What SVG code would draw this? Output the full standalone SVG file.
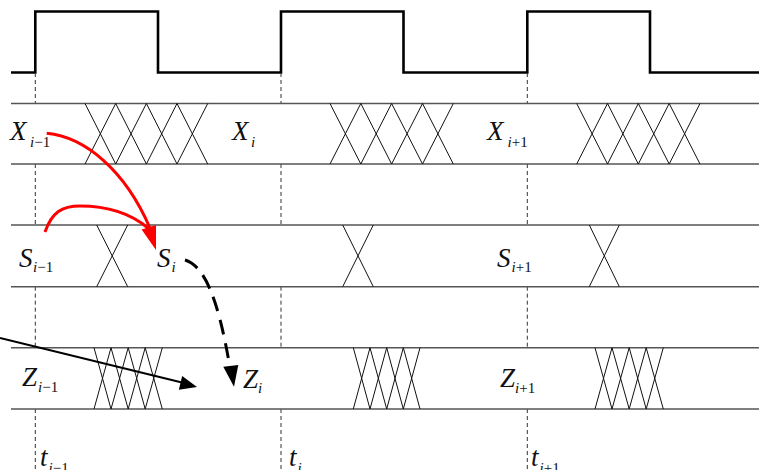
<svg xmlns="http://www.w3.org/2000/svg" width="759" height="470" viewBox="0 0 759 470">
<style>
.clk{fill:none;stroke:#000;stroke-width:2.6;stroke-linejoin:miter}
.band{stroke:#555;stroke-width:1.6;fill:none}
.cross{stroke:#111;stroke-width:1;fill:none}
.vdash{stroke:#333;stroke-width:1;stroke-dasharray:4 3;fill:none}
.red{stroke:#f00;stroke-width:3;fill:none}
.redhead{fill:#f00}
.blk{stroke:#000;stroke-width:2;fill:none}
.blkdash{stroke:#000;stroke-width:3;fill:none;stroke-dasharray:15 9}
.blkhead{fill:#000}
text{font-family:"Times New Roman","Liberation Serif","DejaVu Serif",serif;font-style:italic;font-size:27px;fill:#111}
.s{font-size:15px}
.u{font-style:normal}
</style>
<rect width="759" height="470" fill="#fff"/>
<g id="clock">
<polyline class="clk" points="11,72.5 35.3,72.5 35.3,11.5 158,11.5 158,72.5 281,72.5 281,11.5 403.5,11.5 403.5,72.5 527.3,72.5 527.3,11.5 650,11.5 650,72.5 759,72.5"/>
</g>
<g id="time-markers">
<path class="vdash" d="M35.3,73V103.5M35.3,164V225M35.3,286.7V347.7M35.3,409V470M281,73V103.5M281,164V225M281,286.7V347.7M281,409V470M527.3,73V103.5M527.3,164V225M527.3,286.7V347.7M527.3,409V470"/>
<text x="40" y="466">t<tspan class="s" x="48.5" y="473">i<tspan class="u">−1</tspan></tspan></text>
<text x="289" y="466">t<tspan class="s" x="297.5" y="473">i</tspan></text>
<text x="531" y="466">t<tspan class="s" x="539.5" y="473">i<tspan class="u">+1</tspan></tspan></text>
</g>
<g id="x-row">
<path class="band" d="M11,103.5H759M11,164H759"/>
<path class="cross" d="M85,103.5L115.7,164M85,164L115.7,103.5M115.7,103.5L146.4,164M115.7,164L146.4,103.5M146.4,103.5L177,164M146.4,164L177,103.5M177,103.5L207.7,164M177,164L207.7,103.5"/>
<path class="cross" d="M330,103.5L360.8,164M330,164L360.8,103.5M360.8,103.5L391.6,164M360.8,164L391.6,103.5M391.6,103.5L422.5,164M391.6,164L422.5,103.5M422.5,103.5L453.3,164M422.5,164L453.3,103.5"/>
<path class="cross" d="M576.7,103.5L607.5,164M576.7,164L607.5,103.5M607.5,103.5L638.3,164M607.5,164L638.3,103.5M638.3,103.5L669.2,164M638.3,164L669.2,103.5M669.2,103.5L700,164M669.2,164L700,103.5"/>
<text x="10" y="140">X<tspan class="s" x="30" y="147">i<tspan class="u">−1</tspan></tspan></text>
<text x="232" y="140">X<tspan class="s" x="251" y="147">i</tspan></text>
<text x="487" y="140">X<tspan class="s" x="507.5" y="147">i<tspan class="u">+1</tspan></tspan></text>
</g>
<g id="s-row">
<path class="band" d="M11,225H759M11,286.7H759"/>
<path class="cross" d="M96.7,225L127.7,286.7M96.7,286.7L127.7,225M342.7,225L373.3,286.7M342.7,286.7L373.3,225M589.3,225L619.3,286.7M589.3,286.7L619.3,225"/>
<text x="19" y="267">S<tspan class="s" x="33" y="272">i<tspan class="u">−1</tspan></tspan></text>
<text x="157" y="267">S<tspan class="s" x="171.5" y="272">i</tspan></text>
<text x="497" y="267">S<tspan class="s" x="511.5" y="272">i<tspan class="u">+1</tspan></tspan></text>
</g>
<g id="z-row">
<path class="band" d="M11,347.7H759M11,409H759"/>
<path class="cross" d="M94,347.7L111,409M94,409L111,347.7M111,347.7L128.2,409M111,409L128.2,347.7M128.2,347.7L145.2,409M128.2,409L145.2,347.7M145.2,347.7L162.3,409M145.2,409L162.3,347.7"/>
<path class="cross" d="M353.3,347.7L370,409M353.3,409L370,347.7M370,347.7L386.7,409M370,409L386.7,347.7M386.7,347.7L403.3,409M386.7,409L403.3,347.7M403.3,347.7L420,409M403.3,409L420,347.7"/>
<path class="cross" d="M595,347.7L612,409M595,409L612,347.7M612,347.7L629.2,409M612,409L629.2,347.7M629.2,347.7L646.2,409M629.2,409L646.2,347.7M646.2,347.7L663.3,409M646.2,409L663.3,347.7"/>
<text x="22" y="386">Z<tspan class="s" x="38" y="392">i<tspan class="u">−1</tspan></tspan></text>
<text x="243" y="388">Z<tspan class="s" x="258" y="393">i</tspan></text>
<text x="500" y="387">Z<tspan class="s" x="515" y="393">i<tspan class="u">+1</tspan></tspan></text>
</g>
<g id="connectors">
<path class="red" d="M46.7,133.3C85,137 125,170 150,228"/>
<path class="red" d="M45,232C52,212 62,206 80,206C105,206 130,213 148,228"/>
<polygon class="redhead" points="156,250 141.6,229.4 156,224.9"/>
<path class="blkdash" d="M185,260C205,266 218,300 229,362"/>
<polygon class="blkhead" points="234,386.7 223.3,366.7 238.3,365"/>
<path class="blk" d="M0,338L184,383"/>
<polygon class="blkhead" points="197,387 178.8,389.7 182.2,376.1"/>
</g>
</svg>
